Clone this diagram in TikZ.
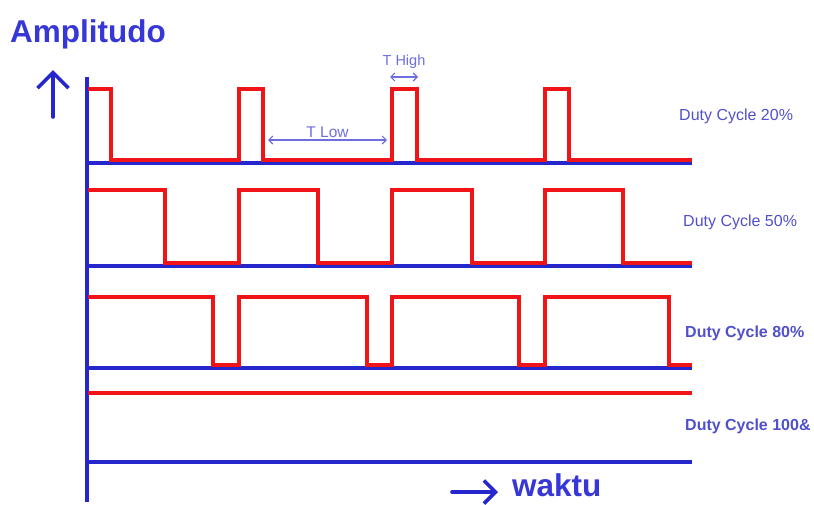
\documentclass[tikz,border=0pt]{standalone}
\usepackage{fontspec}
\setmainfont{Liberation Sans}
\usetikzlibrary{arrows.meta}
\definecolor{AxisBlue}{RGB}{38,38,205}
\definecolor{TitleBlue}{RGB}{55,55,215}
\definecolor{LabelBlue}{RGB}{80,80,205}
\definecolor{SpanBlue}{RGB}{110,110,225}
\definecolor{SigRed}{RGB}{240,20,25}

\begin{document}
\begin{tikzpicture}[
    % Environment Config (1 unit = 1 pixel of the sheet, y grows downward)
    x=1pt, y=-1pt,
    AxisLine/.style={% Style for the axes and base lines
      draw=AxisBlue,
      line width=3.4pt
    },
    Signal/.style={% Style for the pwm signal
      draw=SigRed,
      line width=3.2pt,
      line join=miter
    },
    BigArrow/.style={% Style for the amplitude and time arrows
      -{Straight Barb[length=#1,width=2*#1,line width=3.6pt]},
      AxisBlue,
      line width=3.6pt,
      line cap=round
    },
    Span/.style={% Style for the period marks
      {Straight Barb[length=4pt,width=8pt]}-{Straight Barb[length=4pt,width=8pt]},
      SpanBlue,
      line width=1.2pt
    },
    BigText/.style={% Style for the axis names
      font=\fontsize{31.5}{36}\selectfont\bfseries,
      text=TitleBlue,
      inner sep=0pt
    },
    DutyText/.style={% Style for the duty cycle names
      font=\fontsize{16}{18}\selectfont,
      text=LabelBlue,
      anchor=west,
      inner sep=0pt
    }
  ]
  \useasboundingbox (0,0) rectangle (814,504);

  % Axis names
  \node[BigText, anchor=base west] (Amp) at (10,42) {Amplitudo};
  \node[BigText, anchor=base west] (Waktu) at (512,496) {waktu};

  % Axis arrows
  \coordinate (AmpTail) at (53,117);
  \coordinate (AmpHead) at (53,70);
  \draw[BigArrow=15.5pt] (AmpTail) -- (AmpHead);
  \coordinate (WaktuTail) at (452,492);
  \coordinate (WaktuHead) at (498,492);
  \draw[BigArrow=11.5pt] (WaktuTail) -- (WaktuHead);

  % Axes and base lines
  \draw[AxisLine] (87,77) -- (87,502);
  \foreach \yb in {163,266,368,462}
    \draw[AxisLine] (87,\yb) -- (692,\yb);

  % Signals
  %===20%===
  \draw[Signal]
  (88,89) -| (111,160) -| (239,89) -| (263,160) -| (392,89)
      -| (417,160) -| (545,89) -| (569,160) -- (692,160);
  %===50%===
  \draw[Signal]
  (88,190) -| (165,263) -| (239,190) -| (318,263) -| (392,190)
      -| (472,263) -| (545,190) -| (623,263) -- (692,263);
  %===80%===
  \draw[Signal]
  (88,297) -| (213,365) -| (239,297) -| (367,365) -| (392,297)
      -| (519,365) -| (545,297) -| (669,365) -- (692,365);
  %===100%===
  \draw[Signal] (88,393) -- (692,393);

  % Period marks
  %===T Low===
  \coordinate (TLowA) at (268,140);
  \coordinate (TLowB) at (387,140);
  \draw[Span] (TLowA) -- (TLowB)
      node[midway, above=2pt, font=\fontsize{15.5}{18}\selectfont, text=SpanBlue, inner sep=0pt] (TLow) {T Low};
  %===T High===
  \coordinate (THighA) at (390,77);
  \coordinate (THighB) at (418,77);
  \draw[Span] (THighA) -- (THighB)
      node[midway, above=8pt, font=\fontsize{14.5}{17}\selectfont, text=SpanBlue, inner sep=0pt] (THigh) {T High};

  % Duty cycle names
  \node[DutyText] (DC20) at (679,116) {Duty Cycle 20\%};
  \node[DutyText] (DC50) at (683,222) {Duty Cycle 50\%};
  \node[DutyText, font=\fontsize{16}{18}\selectfont\bfseries] (DC80) at (685,333) {Duty Cycle 80\%};
  \node[DutyText, font=\fontsize{16}{18}\selectfont\bfseries] (DC100) at (685,426) {Duty Cycle 100\&};

\end{tikzpicture}
\end{document}
